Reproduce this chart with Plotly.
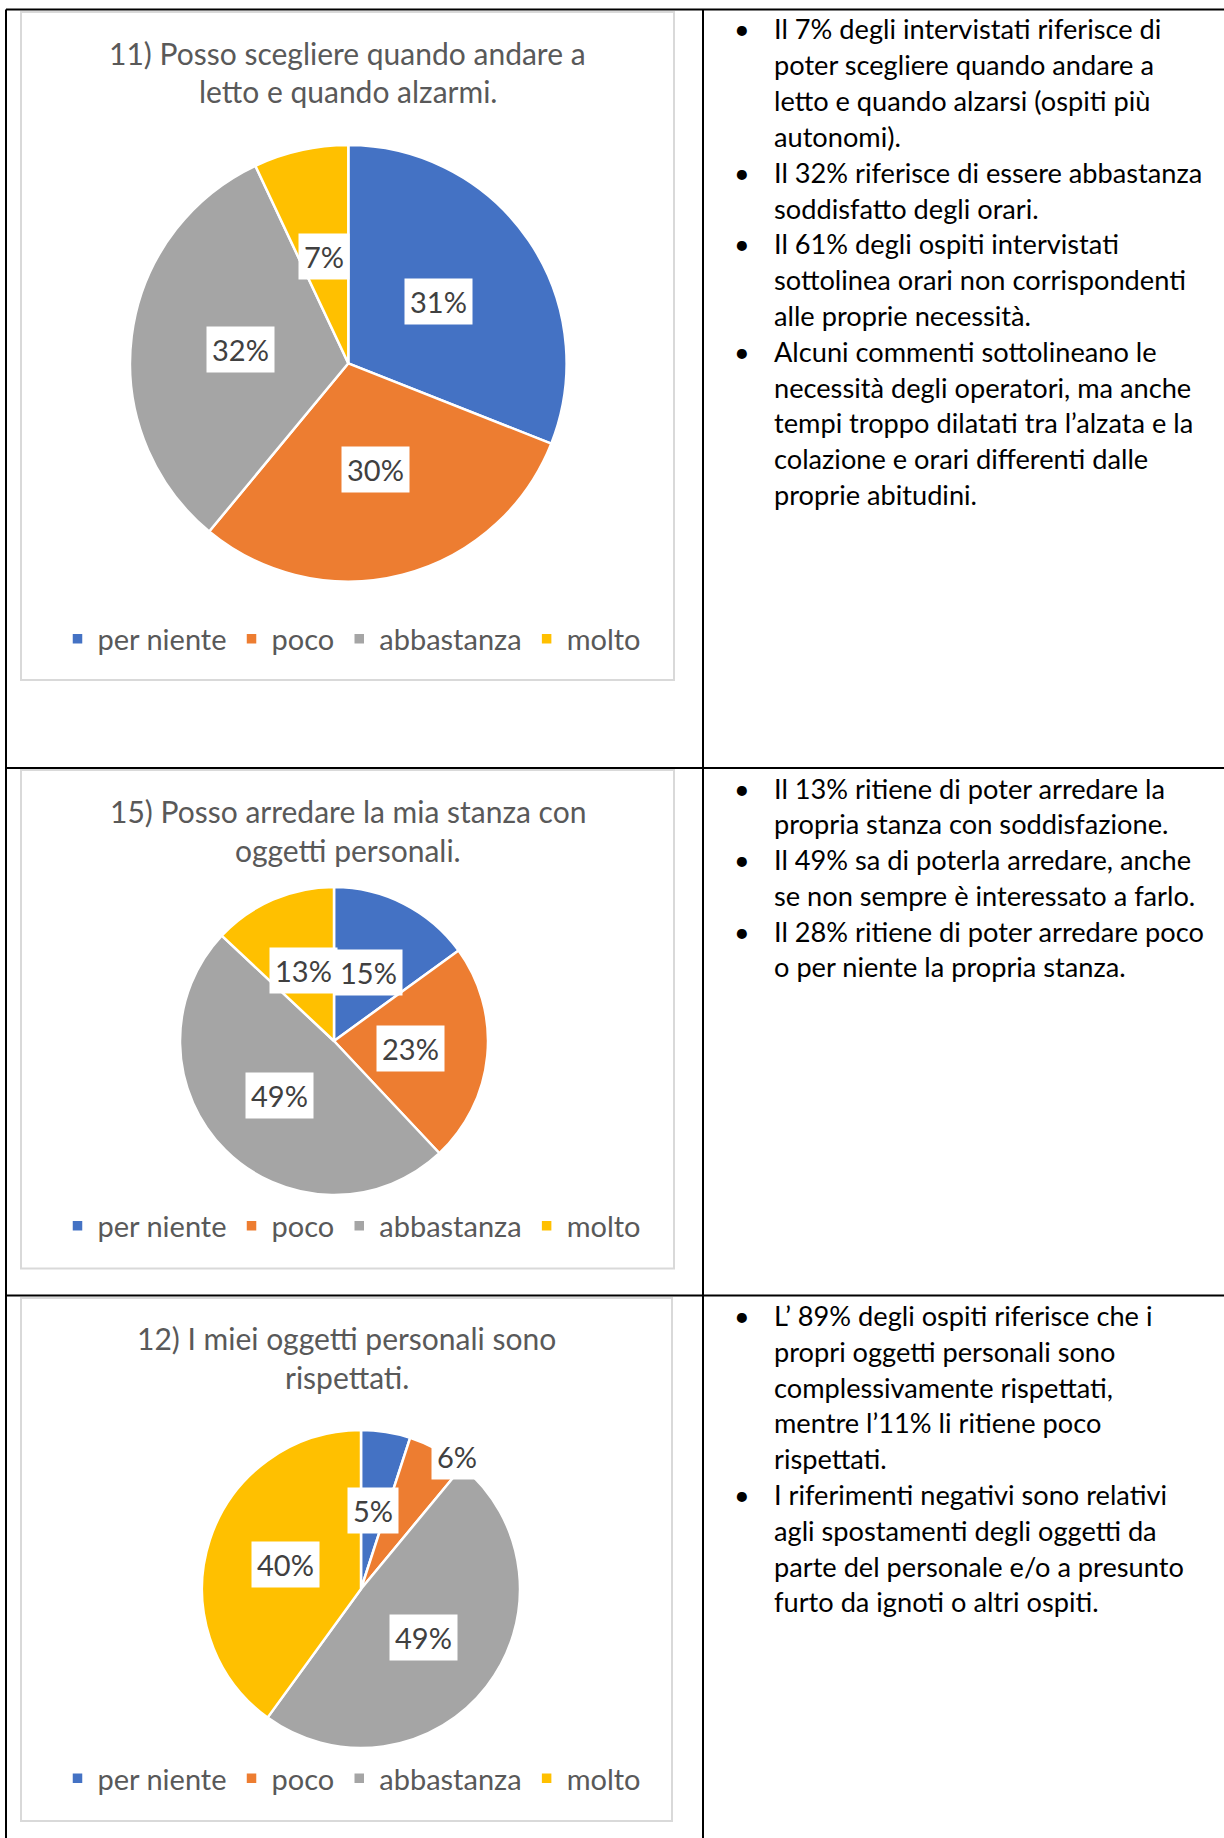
import math
import plotly.graph_objects as go

# ---------------- data ----------------
CATEGORIES = ["per niente", "poco", "abbastanza", "molto"]
COLORS = ["#4472C4", "#ED7D31", "#A5A5A5", "#FFC000"]

VALUES_Q11 = [31, 30, 32, 7]
VALUES_Q15 = [15, 23, 49, 13]
VALUES_Q12 = [5, 6, 49, 40]

TITLE_Q11 = ["11) Posso scegliere quando andare a", "letto e quando alzarmi."]
TITLE_Q15 = ["15) Posso arredare la mia stanza con", "oggetti personali."]
TITLE_Q12 = ["12) I miei oggetti personali sono", "rispettati."]

TEXT_Q11 = [
    ["Il 7% degli intervistati riferisce di", "poter scegliere quando andare a",
     "letto e quando alzarsi (ospiti più", "autonomi)."],
    ["Il 32% riferisce di essere abbastanza", "soddisfatto degli orari."],
    ["Il 61% degli ospiti intervistati", "sottolinea orari non corrispondenti",
     "alle proprie necessità."],
    ["Alcuni commenti sottolineano le", "necessità degli operatori, ma anche",
     "tempi troppo dilatati tra l’alzata e la", "colazione e orari differenti dalle",
     "proprie abitudini."],
]
TEXT_Q15 = [
    ["Il 13% ritiene di poter arredare la", "propria stanza con soddisfazione."],
    ["Il 49% sa di poterla arredare, anche", "se non sempre è interessato a farlo."],
    ["Il 28% ritiene di poter arredare poco", "o per niente la propria stanza."],
]
TEXT_Q12 = [
    ["L’ 89% degli ospiti riferisce che i", "propri oggetti personali sono",
     "complessivamente rispettati,", "mentre l’11% li ritiene poco", "rispettati."],
    ["I riferimenti negativi sono relativi", "agli spostamenti degli oggetti da",
     "parte del personale e/o a presunto", "furto da ignoti o altri ospiti."],
]

# ---------------- layout helpers ----------------
W, H = 1224, 1838
FONT = "Lato"


def px(x):
    return x / W


def py(y):
    return 1 - y / H


PANELS = [
    dict(values=VALUES_Q11, title=TITLE_Q11, text=TEXT_Q11,
         box=(21, 12, 674, 680), cx=348.3, cy=363.3, r=218.3,
         title_y=52.8, legend_y=639, text_y=29,
         label_override={}),
    dict(values=VALUES_Q15, title=TITLE_Q15, text=TEXT_Q15,
         box=(21, 770, 674, 1268.5), cx=334, cy=1041, r=154,
         title_y=811, legend_y=1226, text_y=788,
         label_override={}),
    dict(values=VALUES_Q12, title=TITLE_Q12, text=TEXT_Q12,
         box=(21, 1298, 672, 1821), cx=361, cy=1589, r=159,
         title_y=1338, legend_y=1778.5, text_y=1315.4,
         label_override={1: (1.03, 7.0)}),
]

TITLE_LH = 38.5
TEXT_LH = 35.8
TEXT_X = 771.5
BULLET_X = 742

fig = go.Figure()
shapes = []
annotations = []

for i, p in enumerate(PANELS):
    legend_name = "legend" if i == 0 else f"legend{i + 1}"
    cx, cy, r = p["cx"], p["cy"], p["r"]
    # invisible zero-width suffix keeps each chart's legend entries separate
    labels = [c + "\u200b" * i for c in CATEGORIES]
    fig.add_trace(go.Pie(
        labels=labels,
        values=p["values"],
        sort=False,
        direction="clockwise",
        rotation=0,
        marker=dict(colors=COLORS, line=dict(color="white", width=2.5)),
        textinfo="none",
        hoverinfo="label+percent",
        domain=dict(x=[px(cx - r), px(cx + r)], y=[py(cy + r), py(cy - r)]),
        legend=legend_name,
        showlegend=True,
    ))

    total = sum(p["values"])
    cum = 0
    for j, v in enumerate(p["values"]):
        mid = (cum + v / 2) / total * 360.0
        cum += v
        frac, dang = p["label_override"].get(j, (0.5, 0.0))
        a = math.radians(mid + dang)
        lx = cx + frac * r * math.sin(a)
        ly = cy - frac * r * math.cos(a)
        annotations.append(dict(
            x=px(lx), y=py(ly), xref="paper", yref="paper",
            text=f"{v}%", showarrow=False,
            font=dict(family=FONT, size=29, color="#404040"),
            bgcolor="white", borderpad=5,
            xanchor="center", yanchor="middle",
        ))

    x0, y0, x1, y1 = p["box"]
    for k, line in enumerate(p["title"]):
        annotations.append(dict(
            x=px((x0 + x1) / 2), y=py(p["title_y"] + k * TITLE_LH),
            xref="paper", yref="paper", text=line, showarrow=False,
            font=dict(family=FONT, size=30, color="#595959"),
            xanchor="center", yanchor="middle",
        ))

    shapes.append(dict(type="rect", xref="paper", yref="paper",
                       x0=px(x0), x1=px(x1), y0=py(y1), y1=py(y0),
                       line=dict(color="#D9D9D9", width=2), layer="below"))

    fig.update_layout(**{legend_name: dict(
        orientation="h", x=px(352), xanchor="center",
        y=py(p["legend_y"]), yanchor="middle",
        font=dict(family=FONT, size=29, color="#595959"),
        bgcolor="rgba(0,0,0,0)", itemclick=False, itemdoubleclick=False,
        traceorder="normal",
    )})

    n = 0
    for para in p["text"]:
        for k, line in enumerate(para):
            yy = p["text_y"] + n * TEXT_LH
            if k == 0:
                annotations.append(dict(
                    x=px(BULLET_X), y=py(yy), xref="paper", yref="paper",
                    text="•", showarrow=False,
                    font=dict(family=FONT, size=27, color="black"),
                    xanchor="center", yanchor="middle",
                ))
            annotations.append(dict(
                x=px(TEXT_X), y=py(yy), xref="paper", yref="paper",
                text=line, showarrow=False,
                font=dict(family=FONT, size=27.2, color="black"),
                xanchor="left", yanchor="middle",
            ))
            n += 1

TABLE_LEFT, TABLE_TOP, DIVIDER_X = 6, 9.5, 703
ROW_LINES = [768, 1295.5]
line_style = dict(color="black", width=2)
shapes.append(dict(type="line", xref="paper", yref="paper",
                   x0=px(TABLE_LEFT), x1=1, y0=py(TABLE_TOP), y1=py(TABLE_TOP), line=line_style))
shapes.append(dict(type="line", xref="paper", yref="paper",
                   x0=px(TABLE_LEFT), x1=px(TABLE_LEFT), y0=py(TABLE_TOP), y1=0, line=line_style))
shapes.append(dict(type="line", xref="paper", yref="paper",
                   x0=px(DIVIDER_X), x1=px(DIVIDER_X), y0=py(TABLE_TOP), y1=0, line=line_style))
for ry in ROW_LINES:
    shapes.append(dict(type="line", xref="paper", yref="paper",
                       x0=px(TABLE_LEFT), x1=1, y0=py(ry), y1=py(ry), line=line_style))

fig.update_layout(
    width=W, height=H,
    margin=dict(l=0, r=0, t=0, b=0),
    paper_bgcolor="white", plot_bgcolor="white",
    shapes=shapes, annotations=annotations,
    font=dict(family=FONT),
)

fig.write_html("out.html")
